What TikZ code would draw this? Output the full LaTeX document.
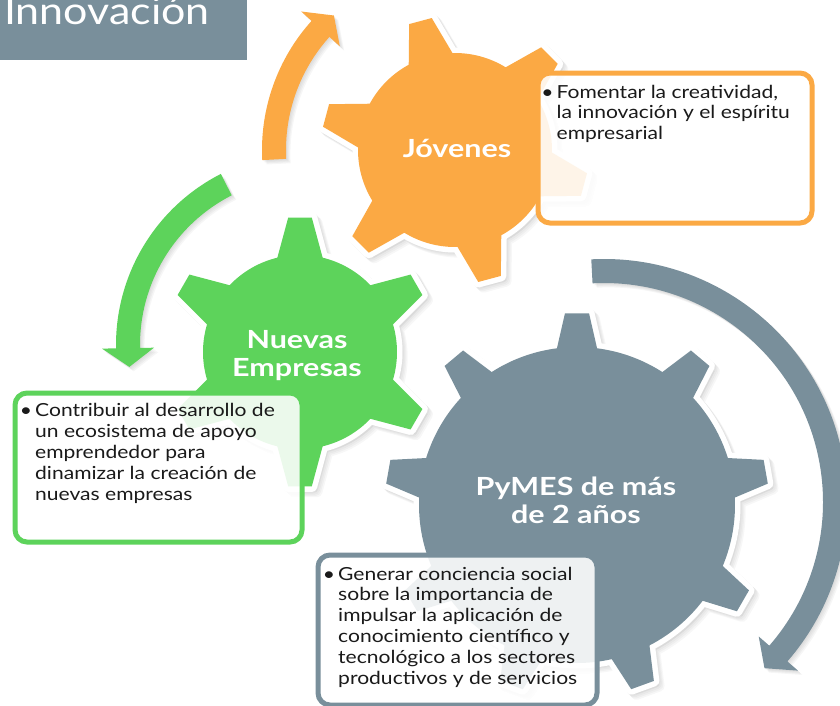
\documentclass[tikz,border=0pt]{standalone}
\usepackage{fontspec}
\setmainfont{Lato}
\newfontfamily\bodyfont{Lato}[FakeStretch=1.17]
\newfontfamily\labelfont{Lato}[FakeStretch=1.22]
\newfontfamily\titlefont{Lato}[FakeStretch=1.13]
\definecolor{orangeC}{HTML}{FBA944}
\definecolor{greenC}{HTML}{5DD35B}
\definecolor{greyC}{HTML}{798F9B}
\definecolor{textC}{HTML}{1A1A1A}
% gear outline relative to its centre: #1 first tooth angle, #2 teeth, #3 tip radius, #4 root radius, #5 tip half-angle, #6 base half-angle
\newcommand{\gearpath}[6]{%
  ({#1-#6}:#4)
  \foreach \k in {1,...,#2}{
    -- ({#1+(\k-1)*360/#2-#5}:#3) -- ({#1+(\k-1)*360/#2+#5}:#3)
    -- ({#1+(\k-1)*360/#2+#6}:#4)
    arc[start angle={#1+(\k-1)*360/#2+#6}, end angle={#1+\k*360/#2-#6}, radius=#4]
  } -- cycle}
% gear: #1 color, #2 cx, #3 cy, #4 teeth, #5 first tooth angle, #6 tip radius, #7 root radius, #8 tip half-angle, #9 base half-angle
\newcommand{\mygear}[9]{%
  \foreach \s in {1,...,4}{
    \path[shadowlayer, shift={({#2+1.3*\s},{#3-1.3*\s})}] \gearpath{#5}{#4}{#6}{#7}{#8}{#9};
  }
  \path[shift={(#2,#3)}, fill=#1, preaction={draw=white, line width=11pt, line join=round}]
    \gearpath{#5}{#4}{#6}{#7}{#8}{#9};}
% curved arrow outline: #1 radius, #2 start angle, #3 head base angle, #4 tip angle
\newcommand{\arrowpath}[4]{%
  ({#2}:{#1+12}) arc[start angle={#2}, end angle={#3}, radius={#1+12}]
  -- ({#3}:{#1+26}) -- ({#4}:{#1}) -- ({#3}:{#1-26}) -- ({#3}:{#1-12})
  arc[start angle={#3}, end angle={#2}, radius={#1-12}] -- cycle}
% #1 color, #2 cx, #3 cy, #4 radius, #5 start angle, #6 head base angle, #7 tip angle
\newcommand{\myarrow}[7]{%
  \foreach \s in {1,...,4}{
    \path[fill=black, fill opacity=0.035, shift={({#2+1.1*\s},{#3-1.1*\s})}] \arrowpath{#4}{#5}{#6}{#7};
  }
  \path[fill=#1, shift={(#2,#3)}] \arrowpath{#4}{#5}{#6}{#7};}
\tikzset{
  shadowlayer/.style={fill=black, draw=black, fill opacity=0.03, draw opacity=0.03, line width=11pt, line join=round},
  infobox/.style={draw=#1, line width=5pt, rounded corners=12pt, fill=white, fill opacity=0.88, draw opacity=1, anchor=north west, inner sep=0pt},
  infotext/.style={anchor=base west, inner sep=0pt, text=textC},
  gearlabel/.style={anchor=base, inner sep=0pt, text=white}
}
\newcommand{\bodytext}[2]{\begin{minipage}[t]{#1}\raggedright\bodyfont\fontsize{18}{20.9}\selectfont #2\end{minipage}}
\newcommand{\labeltext}[1]{\begin{minipage}[t]{260pt}\centering\labelfont\fontsize{25}{28.5}\selectfont\bfseries #1\end{minipage}}
\newcommand{\bul}{\leavevmode\llap{\textbullet\hspace{3pt}}}
\begin{document}
\begin{tikzpicture}[x=1pt,y=1pt]
\useasboundingbox (0,0) rectangle (840,-705);
% title
\node[fill=greyC, minimum width=247pt, minimum height=60pt, anchor=north west, inner sep=0pt] (titlebox) at (0,0) {};
\node[anchor=base west, inner sep=0pt, text=white, font=\titlefont\fontsize{38}{40}\selectfont] (title) at (4,-24) {Innovación};
% gears
\mygear{greenC}{300}{-352}{6}{90}{135}{97}{5}{13.5}
\mygear{orangeC}{455}{-150}{6}{45}{134}{97}{5}{13.5}
\mygear{greyC}{577}{-505}{9}{90}{192}{158}{3.6}{7.3}
% arrows
\myarrow{greenC}{308}{-345}{180}{117}{181}{187}
\myarrow{orangeC}{455}{-150}{181}{183}{138}{132}
\myarrow{greyC}{604}{-502}{231}{93}{-41}{-46}
% gear labels
\node[gearlabel] (jov) at (457,-157) {\labeltext{Jóvenes}};
\node[gearlabel] (nue) at (297,-348) {\labeltext{Nuevas\\Empresas}};
\node[gearlabel] (pym) at (576,-495) {\labeltext{PyMES de más\\de 2 años}};
% info boxes
\node[infobox=orangeC, minimum width=274pt, minimum height=150pt] (jbox) at (535.5,-70.5) {};
\node[infobox=greenC, minimum width=287pt, minimum height=149pt] (nbox) at (12.5,-390.5) {};
\node[infobox=greyC, minimum width=279pt, minimum height=150pt] (pbox) at (315.5,-552.5) {};
\node[infotext] (jtext) at (556.5,-98) {\bodytext{250pt}{\bul Fomentar la creatividad,\\ la innovación y el espíritu\\ empresarial}};
\node[infotext] (ntext) at (35,-416.5) {\bodytext{262pt}{\bul Contribuir al desarrollo de\\ un ecosistema de apoyo\\ emprendedor para\\ dinamizar la creación de\\ nuevas empresas}};
\node[infotext] (ptext) at (338,-580) {\bodytext{255pt}{\bul Generar conciencia social\\ sobre la importancia de\\ impulsar la aplicación de\\ conocimiento científico y\\ tecnológico a los sectores\\ productivos y de servicios}};
\end{tikzpicture}
\end{document}
